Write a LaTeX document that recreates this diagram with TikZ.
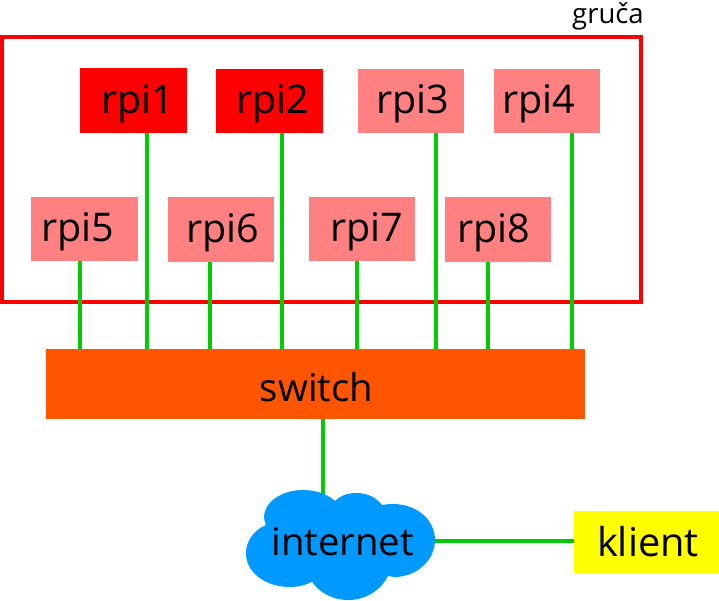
\documentclass[tikz,border=0pt]{standalone}
\usepackage{fontspec}
\setmainfont{Open Sans}
\definecolor{piPink}{HTML}{FF8080}
\definecolor{piRed}{HTML}{FF0000}
\definecolor{linkGreen}{HTML}{00CC00}
\definecolor{swOrange}{HTML}{FF5500}
\definecolor{cloudBlue}{HTML}{0099FF}
\definecolor{clientYellow}{HTML}{FFFF00}
\tikzset{
  pibase/.style={inner sep=0pt, outer sep=0pt, minimum width=106.5pt, minimum height=64.5pt,
    text height=35pt, text depth=10pt, font=\fontsize{39.5}{42}\selectfont},
  pion/.style={pibase, fill=piRed},
  pioff/.style={pibase, fill=piPink},
  link/.style={draw=linkGreen, line width=4pt},
  framebox/.style={draw=piRed, line width=3.6pt, fill=none, inner sep=0pt, outer sep=0pt, minimum width=639pt, minimum height=265pt},
  plain/.style={inner sep=0pt, outer sep=0pt},
}
\begin{document}
\begin{tikzpicture}[x=1pt,y=-1pt]
\useasboundingbox (0,0) rectangle (719,600);
\node[framebox] (frame) at (321.5,169.5) {};
\node[anchor=base, inner sep=0pt, font=\fontsize{27.5}{30}\selectfont] (gruca) at (608,23) {gruča};
\node[plain, fill=swOrange, minimum width=539pt, minimum height=70pt, text height=44pt, text depth=10pt, font=\fontsize{38.4}{42}\selectfont] (sw) at (315.5,384) {\hspace*{2pt}switch};
\node[plain, fill=clientYellow, minimum width=145pt, minimum height=62pt, text height=41pt, text depth=13pt, font=\fontsize{39.8}{42}\selectfont] (kl) at (646.5,542) {\hspace*{3pt}klient};
\node[pion]  (rpi1) at (133.5,100.5) {\hspace*{8pt}rpi1};
\node[pion]  (rpi2) at (269.5,101)   {\hspace*{7pt}rpi2};
\node[pioff] (rpi3) at (411,101)     {\hspace*{3pt}rpi3};
\node[pioff] (rpi4) at (547,101)     {rpi4\hspace*{16pt}};
\node[pioff] (rpi5) at (84.5,229)    {rpi5\hspace*{14pt}};
\node[pioff] (rpi6) at (221,229.5)   {\hspace*{4pt}rpi6};
\node[pioff] (rpi7) at (362,229)     {\hspace*{9pt}rpi7};
\node[pioff] (rpi8) at (498,229.5)   {rpi8\hspace*{9pt}};
% connectors
\draw[link] ([xshift=13.5pt]rpi1.south) -- ([xshift=13.5pt]rpi1.south |- sw.north);
\draw[link] ([xshift=12.5pt]rpi2.south) -- ([xshift=12.5pt]rpi2.south |- sw.north);
\draw[link] ([xshift=25pt]rpi3.south) -- ([xshift=25pt]rpi3.south |- sw.north);
\draw[link] ([xshift=25pt]rpi4.south) -- ([xshift=25pt]rpi4.south |- sw.north);
\draw[link] ([xshift=-5pt]rpi5.south) -- ([xshift=-5pt]rpi5.south |- sw.north);
\draw[link] ([xshift=-11pt]rpi6.south) -- ([xshift=-11pt]rpi6.south |- sw.north);
\draw[link] ([xshift=-5pt]rpi7.south) -- ([xshift=-5pt]rpi7.south |- sw.north);
\draw[link] ([xshift=-10pt]rpi8.south) -- ([xshift=-10pt]rpi8.south |- sw.north);
\coordinate (netTop) at (323,500);
\draw[link] (netTop |- sw.south) -- (netTop);
\coordinate (netRight) at (430,540.5);
\draw[link] (netRight) -- (netRight -| kl.west);
% cloud
\fill[cloudBlue] (266,525)
  .. controls (254,530) and (246,541) .. (246,553)
  .. controls (246,573) and (266,587) .. (290,587)
  .. controls (298,587) and (306,585) .. (312,581.7)
  .. controls (320,593) and (333,600) .. (348,600)
  .. controls (366,600) and (381,590) .. (388,576)
  -- (394,577)
  .. controls (417,577) and (435,560) .. (435,540)
  .. controls (435,520) and (417,504) .. (393,504)
  .. controls (389,504) and (385,504.5) .. (382,505)
  .. controls (376,497) and (367,493) .. (356,493)
  .. controls (347,493) and (340,496) .. (335,501)
  .. controls (327,494) and (316,490) .. (303,490)
  .. controls (282,490) and (264,502) .. (264,517)
  .. controls (264,520) and (265,523) .. (266,525) -- cycle;
\node[anchor=base, inner sep=0pt, font=\fontsize{38.3}{42}\selectfont] (net) at (342.5,555) {internet};
\end{tikzpicture}
\end{document}
